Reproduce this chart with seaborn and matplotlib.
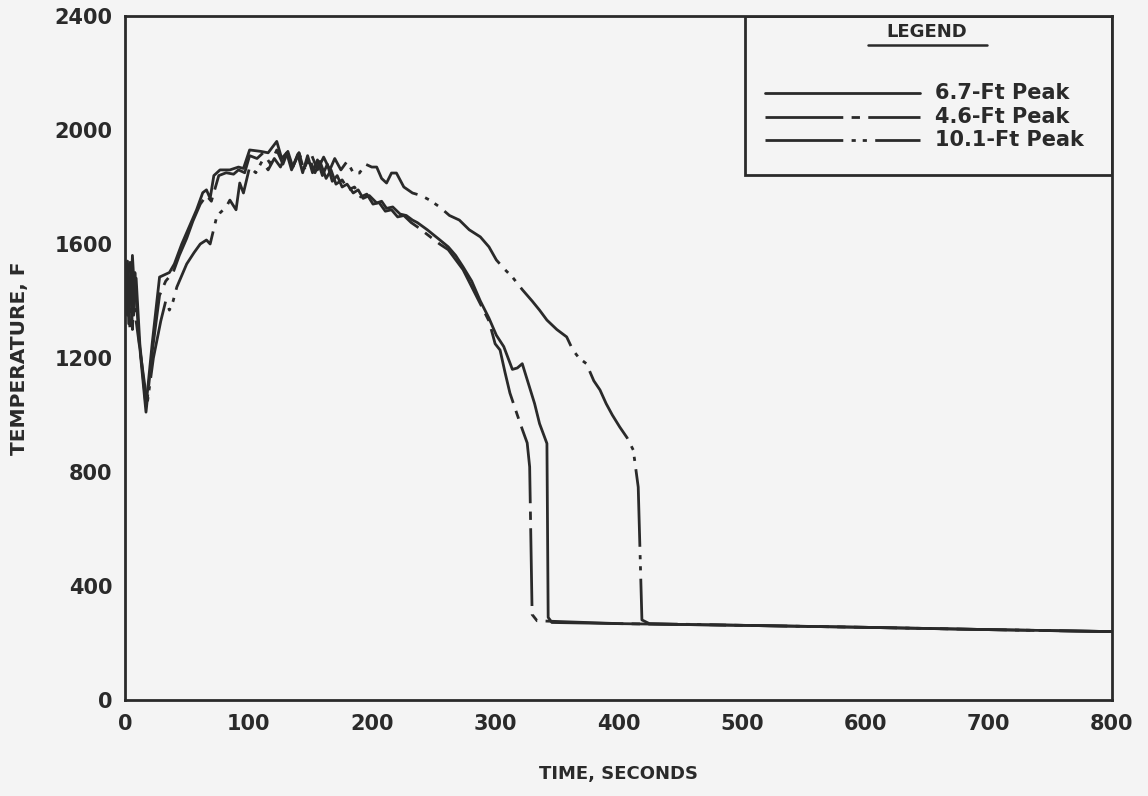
import numpy as np
import pandas as pd
import matplotlib
matplotlib.use("Agg")
import matplotlib.pyplot as plt
import seaborn as sns
from matplotlib.patches import Rectangle

# ---- data ----
t_67 = [0, 2, 3, 5, 7, 9, 12, 17, 22, 28, 31, 36, 40, 46, 52, 58, 63, 66, 69, 72, 77, 85, 92, 96,
        101, 110, 116, 123, 127, 131, 135, 140, 144, 148, 152, 156, 160, 164, 168, 172, 176, 180,
        185, 189, 193, 198, 204, 208, 212, 217, 223, 228, 233, 237, 245, 255, 262, 268, 274, 281,
        288, 295, 301, 307, 314, 318, 322, 327, 332, 336, 342, 343, 346, 400, 500, 600, 700, 800]
T_67 = [1450, 1540, 1320, 1530, 1350, 1480, 1250, 1030, 1250, 1484, 1490, 1500, 1530, 1600, 1660,
        1720, 1780, 1790, 1760, 1840, 1860, 1860, 1870, 1865, 1930, 1925, 1920, 1960, 1900, 1920,
        1860, 1915, 1850, 1910, 1850, 1895, 1840, 1880, 1820, 1840, 1800, 1810, 1779, 1790, 1760,
        1770, 1744, 1750, 1725, 1730, 1705, 1700, 1684, 1675, 1650, 1615, 1590, 1560, 1520, 1470,
        1400, 1340, 1280, 1240, 1160, 1165, 1180, 1110, 1040, 970, 900, 290, 272, 268, 262, 255,
        247, 240]

t_46 = [0, 2, 4, 6, 8, 11, 17, 22, 28, 33, 39, 44, 50, 55, 61, 66, 70, 76, 82, 88, 92, 97, 101,
        107, 112, 118, 123, 128, 132, 136, 141, 145, 149, 154, 158, 163, 167, 171, 176, 181, 186,
        191, 196, 201, 206, 211, 216, 221, 226, 232, 237, 246, 255, 262, 268, 274, 281, 288, 295,
        300, 304, 308, 312, 318, 322, 326, 328, 330, 334, 400, 500, 600, 700, 800]
T_46 = [1500, 1350, 1550, 1300, 1500, 1280, 1010, 1220, 1420, 1470, 1500, 1560, 1620, 1680, 1740,
        1770, 1750, 1840, 1850, 1845, 1860, 1850, 1910, 1900, 1920, 1880, 1930, 1880, 1925, 1870,
        1920, 1860, 1905, 1850, 1890, 1830, 1860, 1810, 1825, 1790, 1800, 1765, 1775, 1740, 1745,
        1715, 1720, 1695, 1700, 1675, 1660, 1630, 1600, 1580, 1545, 1510, 1450, 1390, 1330, 1250,
        1228, 1150, 1077, 1000, 950, 902, 818, 300, 278, 268, 262, 255, 247, 240]

t_101 = [0, 2, 4, 6, 9, 13, 18, 23, 29, 33, 36, 39, 42, 50, 56, 61, 66, 69, 74, 77, 82, 85, 90,
         93, 96, 101, 106, 111, 116, 121, 126, 131, 136, 141, 146, 151, 156, 161, 166, 170, 175,
         180, 185, 190, 195, 200, 204, 208, 212, 216, 220, 226, 233, 240, 247, 255, 263, 271, 279,
         288, 295, 301, 308, 314, 322, 330, 336, 342, 350, 358, 363, 368, 374, 380, 385, 390, 395,
         401, 407, 412, 416, 419, 425, 500, 600, 700, 800]
T_101 = [1480, 1530, 1300, 1560, 1330, 1200, 1040, 1200, 1330, 1400, 1368, 1400, 1449, 1530, 1570,
         1600, 1614, 1600, 1690, 1709, 1730, 1754, 1720, 1814, 1779, 1870, 1850, 1890, 1860, 1900,
         1870, 1920, 1870, 1920, 1860, 1915, 1860, 1905, 1860, 1900, 1860, 1890, 1850, 1849, 1880,
         1870, 1870, 1830, 1814, 1849, 1849, 1800, 1779, 1770, 1754, 1730, 1700, 1684, 1650, 1625,
         1590, 1544, 1510, 1484, 1440, 1400, 1368, 1333, 1300, 1274, 1228, 1200, 1180, 1120, 1088,
         1040, 1000, 958, 920, 877, 747, 281, 268, 262, 255, 247, 240]

labels = ["6.7-Ft Peak", "4.6-Ft Peak", "10.1-Ft Peak"]
x_ticks = [0, 100, 200, 300, 400, 500, 600, 700, 800]
y_ticks = [0, 400, 800, 1200, 1600, 2000, 2400]

df = pd.concat([
    pd.DataFrame({"time": t_67, "temp": T_67, "series": labels[0]}),
    pd.DataFrame({"time": t_46, "temp": T_46, "series": labels[1]}),
    pd.DataFrame({"time": t_101, "temp": T_101, "series": labels[2]}),
], ignore_index=True)

sns.set_style("white")
plt.rcParams["font.family"] = ["DejaVu Sans"]

fig = plt.figure(figsize=(11.48, 7.96), dpi=100, facecolor="#f4f4f4")
ax = fig.add_axes([0.1089, 0.1206, 0.8597, 0.8593])
ax.set_facecolor("#f4f4f4")

ink = "#2a2a2a"
dash_map = {labels[0]: "", labels[1]: (28, 3, 3, 3), labels[2]: (28, 3, 1.5, 2.5, 1.5, 3)}
sns.lineplot(data=df, x="time", y="temp", hue="series", style="series",
             palette={l: ink for l in labels}, dashes=dash_map, estimator=None,
             sort=False, linewidth=2.0, ax=ax, legend=False)

ax.set_xlim(0, 800)
ax.set_ylim(0, 2400)
ax.set_xticks(x_ticks)
ax.set_yticks(y_ticks)
ax.set_xticklabels([str(v) for v in x_ticks], fontsize=15, fontweight="bold", color=ink)
ax.set_yticklabels([str(v) for v in y_ticks], fontsize=15, fontweight="bold", color=ink)
ax.tick_params(axis="y", direction="out", length=5, width=1.5, color=ink, pad=4)
ax.tick_params(axis="x", direction="out", length=0, pad=10)
for s in ax.spines.values():
    s.set_visible(True)
    s.set_color(ink)
    s.set_linewidth(2.0)

ax.set_xlabel("TIME, SECONDS", fontsize=13, fontweight="bold", color=ink)
ax.set_ylabel("TEMPERATURE, F", fontsize=14.5, fontweight="bold", color=ink)
ax.xaxis.set_label_coords(0.5, -0.095)
ax.yaxis.set_label_coords(-0.097, 0.5)

# legend box
ax.add_patch(Rectangle((0.628, 0.7675), 0.372, 0.2325, transform=ax.transAxes,
                       fill=False, edgecolor=ink, linewidth=2.0, zorder=5))
ax.text(0.8126, 0.990, "LEGEND", transform=ax.transAxes, ha="center", va="top",
        fontsize=13, fontweight="bold", color=ink)
ax.plot([0.753, 0.873], [0.957, 0.957], transform=ax.transAxes, color=ink, lw=1.8)
for i, lab in enumerate(labels):
    yy = 0.887 - i * 0.034
    ax.plot([0.648, 0.805], [yy, yy], transform=ax.transAxes, color=ink, lw=2.0,
            linestyle="-" if dash_map[lab] == "" else (0, dash_map[lab]))
    ax.text(0.8207, yy, lab, transform=ax.transAxes, ha="left", va="center",
            fontsize=15, fontweight="bold", color=ink)

fig.savefig("out.png", dpi=100, facecolor=fig.get_facecolor())
